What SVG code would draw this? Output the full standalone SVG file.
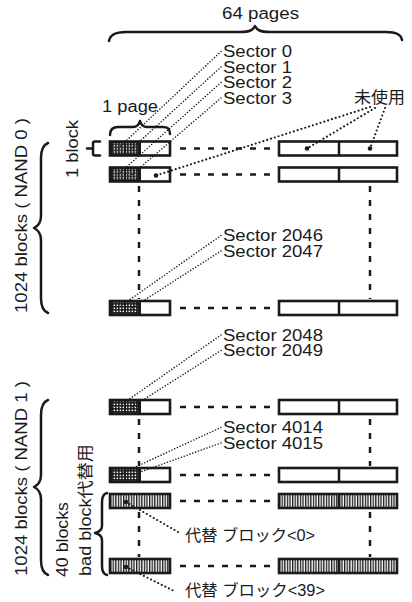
<svg xmlns="http://www.w3.org/2000/svg" width="412" height="602" viewBox="0 0 412 602">
<style>
text{font-family:"Liberation Sans","Noto Sans CJK JP",sans-serif;font-size:16px;fill:#1a1a1a}
.br{fill:none;stroke:#1a1a1a;stroke-width:2.5;stroke-linecap:round;stroke-linejoin:round}
.dash{fill:none;stroke:#1a1a1a;stroke-width:2.5;stroke-dasharray:6 8}
.dot{fill:none;stroke:#1a1a1a;stroke-width:1.6;stroke-dasharray:0 3;stroke-linecap:round}
.dot2{fill:none;stroke:#1a1a1a;stroke-width:2.2;stroke-dasharray:0 4;stroke-linecap:round}
.ed{fill:#1a1a1a}
</style>
<defs>
<pattern id="stip" width="3" height="3" patternUnits="userSpaceOnUse"><rect width="3" height="3" fill="#1a1a1a"/><rect x="0.6" y="0.6" width="1.5" height="1.5" fill="#fff"/></pattern>
<pattern id="stripe" width="2.6" height="10" patternUnits="userSpaceOnUse"><rect width="2.6" height="10" fill="#fff"/><rect width="1.3" height="10" fill="#1a1a1a"/></pattern>
<g id="lp"><rect width="31" height="14" fill="#1a1a1a"/><rect x="2.5" y="1.5" width="11.5" height="11" fill="url(#stip)"/><rect x="16" y="1.5" width="11.5" height="11" fill="url(#stip)"/><rect width="60" height="14" fill="none" stroke="#1a1a1a" stroke-width="2.6"/></g>
<g id="lpbad"><rect width="60" height="14" fill="url(#stripe)" stroke="#1a1a1a" stroke-width="2.6"/></g>
<g id="rp"><rect width="118" height="14" fill="#fff" stroke="#1a1a1a" stroke-width="2.6"/><line x1="60" y1="0" x2="60" y2="14" stroke="#1a1a1a" stroke-width="2.5"/></g>
<g id="rpbad"><rect width="118" height="14" fill="url(#stripe)" stroke="#1a1a1a" stroke-width="2.6"/><line x1="60" y1="0" x2="60" y2="14" stroke="#1a1a1a" stroke-width="2.5"/></g>
</defs>

<g id="labels">
<text x="222" y="19" textLength="77" lengthAdjust="spacingAndGlyphs">64 pages</text>
<path class="br" d="M109,41 C110,34 116,32 126,32 L240,32 C250,32 253,30 255,26 C257,30 260,32 270,32 L386,32 C396,32 401,34 402,40"/>
<text x="102" y="112" textLength="56" lengthAdjust="spacingAndGlyphs">1 page</text>
<path class="br" d="M110,135 C110,129 113,127 118,127 L133,127 C137,127 139,125 140,121 C141,125 143,127 147,127 L163,127 C168,127 170,129 170,134"/>
<text x="354" y="103" textLength="51" lengthAdjust="spacingAndGlyphs">未使用</text>
<text transform="translate(78,178) rotate(-90)" textLength="58" lengthAdjust="spacingAndGlyphs">1 block</text>
<path class="br" d="M100,141.5 L95,141.5 Q93,141.5 93,143.5 L93,148.5 L87,148.5 M93,148.5 L93,153.5 Q93,155.5 95,155.5 L100,155.5"/>
<text transform="translate(27,313) rotate(-90)" textLength="195" lengthAdjust="spacingAndGlyphs">1024 blocks ( NAND 0 )</text>
<path class="br" d="M48,143 C43,145 41,150 41,158 L41,216 C41,223 38,226 34,228 C38,230 41,233 41,240 L41,298 C41,306 43,311 48,313"/>
<text transform="translate(27,576) rotate(-90)" textLength="195" lengthAdjust="spacingAndGlyphs">1024 blocks ( NAND 1 )</text>
<path class="br" d="M48,400 C43,402 41,407 41,415 L41,475 C41,482 38,485 34,487 C38,489 41,492 41,499 L41,560 C41,568 43,573 48,575"/>
<text transform="translate(68,577) rotate(-90)" textLength="75" lengthAdjust="spacingAndGlyphs">40 blocks</text>
<text transform="translate(91,576) rotate(-90)" textLength="132" lengthAdjust="spacingAndGlyphs">bad block代替用</text>
<path class="br" d="M107,493 C103,494 102,497 102,502 L102,526 C102,530 99,532 95,533 C99,534 102,536 102,540 L102,566 C102,571 103,574 107,575"/>
<text x="223" y="57" textLength="69" lengthAdjust="spacingAndGlyphs">Sector 0</text>
<text x="223" y="72.5" textLength="69" lengthAdjust="spacingAndGlyphs">Sector 1</text>
<text x="223" y="88" textLength="69" lengthAdjust="spacingAndGlyphs">Sector 2</text>
<text x="223" y="103.5" textLength="69" lengthAdjust="spacingAndGlyphs">Sector 3</text>
<text x="223" y="241" textLength="100" lengthAdjust="spacingAndGlyphs">Sector 2046</text>
<text x="223" y="256.5" textLength="100" lengthAdjust="spacingAndGlyphs">Sector 2047</text>
<text x="223" y="340.5" textLength="100" lengthAdjust="spacingAndGlyphs">Sector 2048</text>
<text x="223" y="356" textLength="100" lengthAdjust="spacingAndGlyphs">Sector 2049</text>
<text x="223" y="433" textLength="100" lengthAdjust="spacingAndGlyphs">Sector 4014</text>
<text x="223" y="448.5" textLength="100" lengthAdjust="spacingAndGlyphs">Sector 4015</text>
<text x="185" y="541" textLength="130" lengthAdjust="spacingAndGlyphs">代替 ブロック&lt;0&gt;</text>
<text x="185" y="596" textLength="140" lengthAdjust="spacingAndGlyphs">代替 ブロック&lt;39&gt;</text>
</g>

<g id="n0-b0"><use href="#lp" x="110" y="141.5"/><use href="#rp" x="279" y="141.5"/></g>
<g id="n0-b1"><use href="#lp" x="110" y="167.5"/><use href="#rp" x="279" y="167.5"/></g>
<g id="n0-b1023"><use href="#lp" x="110" y="301"/><use href="#rp" x="279" y="301"/></g>
<g id="n1-b0"><use href="#lp" x="110" y="400"/><use href="#rp" x="279" y="400"/></g>
<g id="n1-b983"><use href="#lp" x="110" y="468"/><use href="#rp" x="279" y="468"/></g>
<g id="n1-alt0"><use href="#lpbad" x="110" y="494"/><use href="#rpbad" x="279" y="494"/></g>
<g id="n1-alt39"><use href="#lpbad" x="110" y="559"/><use href="#rpbad" x="279" y="559"/></g>

<g id="connectors">
<path class="dash" d="M180,148.5 H272 M180,174.5 H272 M180,308 H272 M180,407 H272 M180,475 H272 M180,501 H272 M180,566 H272"/>
<path class="dash" d="M139,186 V299 M370,186 V299 M139,419 V466 M370,419 V466 M139,512 V557 M370,512 V557"/>
<path class="dot" d="M221,51.5 L118,148.5 M221,67 L132,148.5 M221,82.5 L118,174.5 M221,98 L132,174.5"/>
<path class="dot" d="M221,235.5 L118,308 M221,251 L132,308 M221,335 L118,407 M221,350.5 L132,407 M221,427.5 L118,475 M221,443 L132,475"/>
<path class="dot2" d="M375,108 L307,148.5 M385,108 L370,148.5 M370,107 L156,175.5"/>
<circle class="ed" cx="307" cy="148.5" r="2.3"/><circle class="ed" cx="370" cy="148.5" r="2.3"/><circle class="ed" cx="156" cy="175.5" r="2.3"/>
<path class="dot2" d="M126,502 L178,532 M126,567 L176,592"/>
<circle class="ed" cx="126" cy="502" r="2.3"/><circle class="ed" cx="126" cy="567" r="2.3"/>
</g>
</svg>
